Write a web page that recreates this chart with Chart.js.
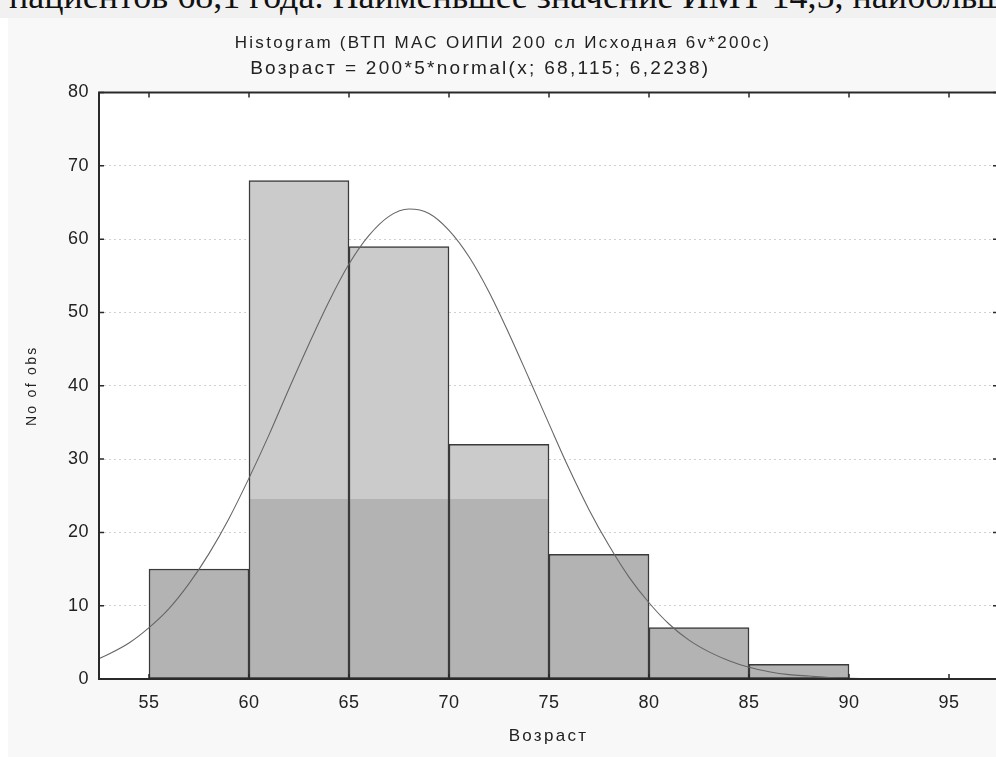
<!DOCTYPE html>
<html>
<head>
<meta charset="utf-8">
<script src="https://cdn.jsdelivr.net/npm/chart.js@4/dist/chart.umd.min.js"></script>
<style>
  html, body { margin: 0; padding: 0; background: #fff; overflow: hidden; width: 996px; height: 757px; }
  #topText {
    position: absolute; left: 0; top: 0; width: 996px; height: 18px;
    background: #f1f1f1; overflow: hidden; white-space: nowrap;
  }
  #topText span {
    position: absolute; left: 9px; bottom: 1px; line-height: 1;
    font: 36px "Liberation Serif", "Times New Roman", serif; color: #111;
  }
  #wrap { position: absolute; left: 8px; top: 18px; width: 1000px; height: 739px; background: #f8f8f8; }
</style>
</head>
<body>
<div id="topText"><span>пациентов 68,1 года. Наименьшее значение ИМТ 14,5, наибольшее</span></div>
<div id="wrap"><canvas id="hist" width="1000" height="739"></canvas></div>
<script>
// histogram bins (Возраст) and counts
const binEdges = [55, 60, 65, 70, 75, 80, 85, 90];
const counts = [15, 68, 59, 32, 17, 7, 2];

// fitted normal curve
const curveX = [52, 53, 54, 55, 56, 57, 58, 59, 60, 61, 62, 63, 64, 65, 66, 67, 68, 69, 70, 71, 72, 73, 74, 75,
  76, 77, 78, 79, 80, 81, 82, 83, 84, 85, 86, 87, 88, 89, 90, 92, 94, 98];
const curveY = [2.2, 3.4, 4.9, 7.0, 9.6, 13.0, 17.1, 21.9, 27.4, 33.3, 39.6, 45.7, 51.5, 56.6, 60.5, 63.1, 64.1, 63.5, 61.2, 57.6, 52.8, 47.1,
  41.0, 34.8, 28.7, 23.1, 18.2, 13.9, 10.4, 7.5, 5.3, 3.7, 2.5, 1.6, 1.0, 0.6, 0.4, 0.2, 0.1, 0.04, 0.01, 0];

const yTicks = [0, 10, 20, 30, 40, 50, 60, 70, 80];
const splitValue = 24.6; // where bar shading turns darker

const family = '"Liberation Sans", Arial, sans-serif';

const barData = counts.map((c, i) => ({ x: (binEdges[i] + binEdges[i + 1]) / 2, y: c }));
const lineData = curveX.map((x, i) => ({ x, y: curveY[i] }));

// the original's titles are spread out wide, tick labels less so
const spacingPlugin = {
  id: 'spacing',
  beforeLayout(chart) { chart.ctx.letterSpacing = '2.3px'; },
  beforeDraw(chart) { chart.ctx.letterSpacing = '2.3px'; },
  afterDatasetsDraw(chart) { chart.ctx.letterSpacing = '0.5px'; }
};

// white plot area, frame and inward ticks
const framePlugin = {
  id: 'frame',
  beforeDraw(chart) {
    const a = chart.chartArea, ctx = chart.ctx;
    ctx.save();
    ctx.fillStyle = '#fff';
    ctx.fillRect(a.left, a.top, a.right - a.left, a.bottom - a.top);
    ctx.restore();
  },
  afterDatasetsDraw(chart) {
    const a = chart.chartArea, ctx = chart.ctx;
    const xs = chart.scales.x, ys = chart.scales.y;
    ctx.save();
    ctx.strokeStyle = '#2a2a2a';
    ctx.lineWidth = 1.5;
    ctx.beginPath();
    xs.ticks.forEach(t => {
      const px = xs.getPixelForValue(t.value);
      ctx.moveTo(px, a.top); ctx.lineTo(px, a.top + 5);
      ctx.moveTo(px, a.bottom); ctx.lineTo(px, a.bottom - 5);
    });
    ys.ticks.forEach(t => {
      const py = ys.getPixelForValue(t.value);
      ctx.moveTo(a.left, py); ctx.lineTo(a.left + 5, py);
      ctx.moveTo(a.right, py); ctx.lineTo(a.right - 5, py);
    });
    ctx.stroke();
    ctx.lineWidth = 2;
    ctx.strokeRect(a.left, a.top, a.right - a.left, a.bottom - a.top);
    ctx.restore();
  }
};

function barFill(context) {
  const chart = context.chart;
  const a = chart.chartArea;
  if (!a) return '#b3b3b3';
  const ys = chart.scales.y;
  const split = (ys.getPixelForValue(splitValue) - a.top) / (a.bottom - a.top);
  const g = chart.ctx.createLinearGradient(0, a.top, 0, a.bottom);
  g.addColorStop(0, '#cbcbcb');
  g.addColorStop(split, '#cbcbcb');
  g.addColorStop(split, '#b3b3b3');
  g.addColorStop(1, '#b3b3b3');
  return g;
}

new Chart(document.getElementById('hist'), {
  type: 'bar',
  data: {
    datasets: [
      {
        type: 'line',
        data: lineData,
        borderColor: '#666',
        borderWidth: 1.1,
        pointRadius: 0,
        cubicInterpolationMode: 'monotone',
        order: 0
      },
      {
        type: 'bar',
        data: barData,
        backgroundColor: barFill,
        borderColor: '#3a3a3a',
        borderWidth: 1.5,
        borderSkipped: false,
        barPercentage: 1,
        categoryPercentage: 1,
        order: 1
      }
    ]
  },
  options: {
    responsive: false,
    animation: false,
    layout: { padding: { left: 0, right: 10, top: 0, bottom: 0 } },
    plugins: {
      legend: { display: false },
      tooltip: { enabled: false },
      title: {
        display: true,
        text: 'Histogram (ВТП МАС ОИПИ 200 сл Исходная 6v*200c)',
        color: '#222',
        font: { family, size: 17, weight: 'normal' },
        padding: { top: 15, bottom: 4.2 }
      },
      subtitle: {
        display: true,
        // trailing spaces nudge it a little left of centre, as in the original
        text: 'Возраст = 200*5*normal(x; 68,115; 6,2238)\u00a0\u00a0\u00a0\u00a0\u00a0\u00a0',
        color: '#222',
        font: { family, size: 19, weight: 'normal' },
        padding: { top: 0, bottom: 12.1 }
      }
    },
    scales: {
      x: {
        type: 'linear',
        min: 52.5,
        max: 97.45,
        offset: false,
        grid: { display: false, offset: false },
        border: { display: false },
        ticks: { z: 1, stepSize: 5, includeBounds: false, color: '#222', font: { family, size: 18 }, padding: 5, maxRotation: 0 },
        title: { display: true, text: 'Возраст', color: '#222', font: { family, size: 17 }, padding: { top: 0, bottom: 10 } },
        afterFit(scale) { scale.height = 78; }
      },
      y: {
        min: 0,
        max: 80,
        afterBuildTicks(scale) { scale.ticks = yTicks.map(v => ({ value: v })); },
        grid: { color: '#d0d0d0', lineWidth: 1, drawTicks: false },
        border: { display: false, dash: [2, 3] },
        ticks: { z: 1, color: '#222', font: { family, size: 18 }, padding: 10 },
        title: { display: true, text: 'No of obs', color: '#222', font: { family, size: 14 }, padding: { top: 16, bottom: 0 } },
        afterFit(scale) { scale.width = 91; }
      }
    }
  },
  plugins: [spacingPlugin, framePlugin]
});
</script>
</body>
</html>
